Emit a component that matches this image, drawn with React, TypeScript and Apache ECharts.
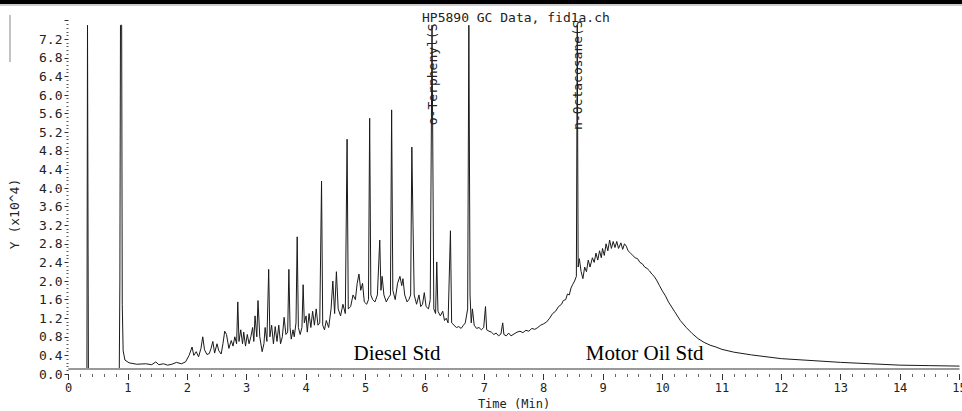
import React, { useEffect, useRef } from "react";
import * as echarts from "echarts";

// Chromatogram trace, [time (min), response (x10^4)]
const solventSegment: [number, number][] = [
  [0, 0.11], [0.31, 0.11], [0.32, 7.5], [0.335, 0.11], [0.855, 0.11], [0.865, 2.0], [0.875, 7.5],
  [0.895, 7.5], [0.905, 1.5], [0.92, 0.5], [0.95, 0.3], [1.02, 0.24], [1.15, 0.21], [1.3, 0.22],
  [1.4, 0.2], [1.47, 0.26], [1.52, 0.2], [1.6, 0.22], [1.67, 0.19], [1.74, 0.21], [1.82, 0.25],
  [1.9, 0.22], [1.97, 0.26],
];

const earlyDieselSegment: [number, number][] = [
  [2.03, 0.4], [2.08, 0.58], [2.11, 0.4], [2.15, 0.48], [2.19, 0.37], [2.23, 0.55], [2.26, 0.8],
  [2.29, 0.52], [2.33, 0.42], [2.37, 0.44], [2.4, 0.55], [2.43, 0.7], [2.46, 0.45], [2.5, 0.65],
  [2.53, 0.5], [2.57, 0.43], [2.6, 0.65], [2.63, 0.92], [2.66, 0.85], [2.7, 0.55], [2.74, 0.72],
  [2.77, 0.6], [2.8, 0.8], [2.83, 0.65], [2.85, 1.55], [2.87, 0.7], [2.9, 0.95], [2.93, 0.65],
  [2.95, 0.9], [2.98, 0.6], [3.01, 0.85], [3.04, 0.65], [3.07, 0.8], [3.1, 1.0], [3.12, 0.7],
  [3.14, 1.25], [3.17, 0.8], [3.19, 1.58], [3.22, 0.8], [3.26, 0.48], [3.29, 0.65], [3.31, 1.0],
  [3.34, 0.7], [3.37, 2.25], [3.39, 0.8], [3.42, 1.05], [3.45, 0.65], [3.48, 1.02], [3.51, 0.7],
  [3.54, 1.05], [3.57, 0.65], [3.6, 0.8], [3.63, 1.22], [3.66, 0.85], [3.69, 0.9], [3.71, 2.25],
  [3.73, 1.0], [3.75, 0.75], [3.78, 0.95], [3.8, 0.8], [3.83, 1.1], [3.85, 2.95], [3.87, 1.0],
  [3.9, 0.85], [3.93, 1.0], [3.95, 1.92], [3.97, 1.1], [4.0, 1.25], [4.02, 0.9], [4.05, 1.3],
  [4.08, 1.0], [4.11, 1.35], [4.14, 1.05], [4.17, 1.4], [4.2, 1.05], [4.23, 1.1], [4.26, 4.15],
  [4.28, 1.05], [4.31, 0.95],
];

const lateDieselSegment: [number, number][] = [
  [4.34, 1.15], [4.38, 1.0], [4.42, 1.4], [4.45, 2.0], [4.48, 1.3], [4.51, 2.2], [4.54, 1.4],
  [4.58, 1.25], [4.62, 1.5], [4.66, 1.3], [4.69, 5.05], [4.71, 1.4], [4.75, 1.45], [4.79, 1.7],
  [4.83, 1.6], [4.86, 1.95], [4.89, 2.15], [4.92, 1.8], [4.95, 1.95], [4.98, 1.55], [5.02, 1.5],
  [5.05, 1.6], [5.07, 5.5], [5.09, 1.7], [5.12, 1.6], [5.16, 1.55], [5.2, 1.7], [5.24, 2.88],
  [5.26, 1.8], [5.28, 2.1], [5.31, 1.7], [5.35, 1.55], [5.39, 1.65], [5.42, 1.7], [5.44, 5.68],
  [5.46, 1.8], [5.5, 1.6], [5.54, 1.95], [5.58, 2.1], [5.61, 1.9], [5.63, 2.05], [5.66, 1.7],
  [5.7, 1.55], [5.73, 1.6], [5.76, 1.7], [5.78, 4.88], [5.8, 3.2], [5.82, 1.7], [5.86, 1.5],
  [5.9, 1.7], [5.93, 1.45], [5.96, 1.5], [5.99, 1.75], [6.02, 1.45], [6.06, 1.4], [6.09, 1.6],
  [6.12, 7.5], [6.15, 1.4], [6.18, 1.3], [6.2, 2.41], [6.22, 1.35], [6.26, 1.25], [6.3, 1.35],
  [6.33, 1.15], [6.36, 1.2], [6.39, 1.1], [6.43, 3.08], [6.45, 1.1], [6.49, 1.05], [6.53, 1.0],
  [6.57, 1.02], [6.61, 0.98], [6.65, 1.05], [6.68, 1.1], [6.72, 1.4], [6.74, 7.5], [6.76, 1.7],
  [6.78, 1.1], [6.8, 1.4], [6.83, 1.05], [6.87, 0.98], [6.91, 1.0], [6.95, 0.95], [6.99, 1.0],
  [7.02, 1.45], [7.04, 0.95], [7.08, 0.92], [7.12, 0.9], [7.16, 0.85], [7.2, 0.88], [7.24, 0.82],
  [7.28, 0.86], [7.31, 1.1], [7.33, 0.85], [7.37, 0.82], [7.41, 0.88], [7.45, 0.82], [7.5, 0.86],
  [7.55, 0.9], [7.6, 0.92], [7.65, 0.89], [7.7, 0.94], [7.75, 0.92], [7.8, 0.98], [7.85, 0.96],
  [7.9, 1.0], [7.95, 1.05], [8.0, 1.08], [8.05, 1.12],
];

const motorOilSegment: [number, number][] = [
  [8.1, 1.2], [8.15, 1.3], [8.2, 1.35], [8.25, 1.45], [8.3, 1.5], [8.33, 1.58], [8.37, 1.6],
  [8.4, 1.72], [8.43, 1.7], [8.46, 1.85], [8.49, 1.93], [8.52, 2.0], [8.55, 2.1], [8.565, 7.5],
  [8.58, 2.3], [8.6, 2.48], [8.63, 2.2], [8.66, 2.05], [8.69, 2.3], [8.72, 2.2], [8.75, 2.45],
  [8.78, 2.3], [8.82, 2.5], [8.85, 2.4], [8.88, 2.6], [8.91, 2.45], [8.94, 2.65], [8.97, 2.5],
  [8.99, 2.7], [9.02, 2.55], [9.05, 2.8], [9.08, 2.65], [9.11, 2.88], [9.14, 2.7], [9.17, 2.85],
  [9.2, 2.72], [9.23, 2.85], [9.26, 2.7], [9.3, 2.82], [9.33, 2.68], [9.36, 2.8], [9.39, 2.75],
  [9.42, 2.65], [9.46, 2.6], [9.5, 2.55], [9.54, 2.5], [9.58, 2.48], [9.62, 2.4], [9.66, 2.37],
  [9.7, 2.3], [9.74, 2.27], [9.78, 2.22], [9.82, 2.15], [9.86, 2.1], [9.9, 2.02], [9.95, 1.9],
  [10.0, 1.78], [10.05, 1.68], [10.1, 1.55], [10.2, 1.35], [10.3, 1.15], [10.4, 1.0], [10.5, 0.87],
  [10.6, 0.76], [10.7, 0.68], [10.8, 0.62], [10.9, 0.58], [11.0, 0.53], [11.2, 0.47], [11.5, 0.41],
  [12.0, 0.33], [12.5, 0.29], [13.0, 0.25], [13.5, 0.22], [14.0, 0.19], [14.5, 0.18], [15.0, 0.17],
];

const baselineLevel = 0.11;
const peakLabels = ["o-Terphenyl(S", "n-Octacosane(S"];
const regionLabels = ["Diesel Std", "Motor Oil Std"];
const xAxisTitle = "Time (Min)";

const MONO = "'DejaVu Sans Mono', 'Liberation Mono', monospace";
const SERIF = "'Liberation Serif', 'DejaVu Serif', serif";

export default function App() {
  const ref = useRef<HTMLDivElement>(null);

  useEffect(() => {
    if (!ref.current) return;
    const chart = echarts.init(ref.current, undefined, { renderer: "svg" });
    const data = [...solventSegment, ...earlyDieselSegment, ...lateDieselSegment, ...motorOilSegment];

    const peakLabel = (text: string) => ({
      show: true,
      formatter: text,
      position: "inside",
      rotate: 90,
      align: "left",
      verticalAlign: "middle",
      fontFamily: MONO,
      fontSize: 13,
      color: "#222",
    });
    const regionLabel = (text: string) => ({
      show: true,
      formatter: text,
      position: "inside",
      align: "center",
      verticalAlign: "middle",
      fontFamily: SERIF,
      fontSize: 21,
      color: "#000",
    });

    const option: any = {
      animation: false,
      backgroundColor: "#ffffff",
      title: {
        text: "HP5890 GC Data, fid1a.ch",
        left: 417,
        top: 6,
        textStyle: { fontFamily: MONO, fontSize: 13, fontWeight: "normal", color: "#222" },
      },
      grid: { left: 68.5, right: 2.5, top: 20.6, bottom: 37, outerBoundsMode: "none", containLabel: false },
      xAxis: {
        type: "value",
        min: 0,
        max: 15,
        interval: 1,
        offset: 2,
        axisLine: { show: false },
        axisTick: { show: true, length: 6, lineStyle: { color: "#333", width: 1 } },
        minorTick: { show: true, splitNumber: 5, length: 3, lineStyle: { color: "#666", width: 1 } },
        axisLabel: { margin: 6, fontFamily: MONO, fontSize: 12, color: "#222", hideOverlap: false },
        splitLine: { show: false },
      },
      yAxis: {
        type: "value",
        min: 0,
        max: 7.6,
        interval: 0.4,
        axisLine: { show: false },
        axisTick: { show: true, length: 4, lineStyle: { color: "#333", width: 1 } },
        minorTick: { show: true, splitNumber: 5, length: 2, lineStyle: { color: "#555", width: 1 } },
        axisLabel: {
          margin: 6,
          fontFamily: MONO,
          fontSize: 13,
          color: "#222",
          formatter: (v: number) => (v > 7.3 ? "" : v.toFixed(1)),
        },
        splitLine: { show: false },
      },
      graphic: [
        { type: "rect", shape: { x: 0, y: 0, width: 962, height: 4 }, style: { fill: "#000" } },
        { type: "line", shape: { x1: 0, y1: 5, x2: 962, y2: 5 }, style: { stroke: "#999", lineWidth: 1 } },
        { type: "line", shape: { x1: 10, y1: 15, x2: 10, y2: 62 }, style: { stroke: "#888", lineWidth: 1 } },
        {
          type: "text",
          x: 14,
          y: 214,
          rotation: Math.PI / 2,
          style: {
            text: "Y (x10^4)",
            fontFamily: MONO,
            fontSize: 13,
            fill: "#222",
            textAlign: "center",
            textVerticalAlign: "middle",
          },
        },
        {
          type: "text",
          x: 514,
          y: 403.5,
          style: {
            text: xAxisTitle,
            fontFamily: MONO,
            fontSize: 12,
            fill: "#222",
            textAlign: "center",
            textVerticalAlign: "middle",
          },
        },
      ],
      series: [
        {
          type: "line",
          data,
          showSymbol: false,
          symbol: "none",
          lineStyle: { color: "#1a1a1a", width: 1 },
          silent: true,
          markLine: {
            silent: true,
            symbol: ["none", "none"],
            label: { show: false },
            lineStyle: { color: "#999", width: 2, type: "solid" },
            data: [{ yAxis: baselineLevel }],
          },
          markPoint: {
            silent: true,
            symbol: "circle",
            symbolSize: 1,
            itemStyle: { color: "transparent" },
            data: [
              { coord: [6.12, 5.35], label: peakLabel(peakLabels[0]) },
              { coord: [8.565, 5.25], label: peakLabel(peakLabels[1]) },
              { coord: [5.53, 0.45], label: regionLabel(regionLabels[0]) },
              { coord: [9.7, 0.45], label: regionLabel(regionLabels[1]) },
            ],
          },
        },
      ],
    };

    chart.setOption(option);
    return () => chart.dispose();
  }, []);

  return (
    <div
      ref={ref}
      style={{ position: "fixed", left: 0, top: 0, width: 962, height: 411, background: "#fff" }}
    />
  );
}
